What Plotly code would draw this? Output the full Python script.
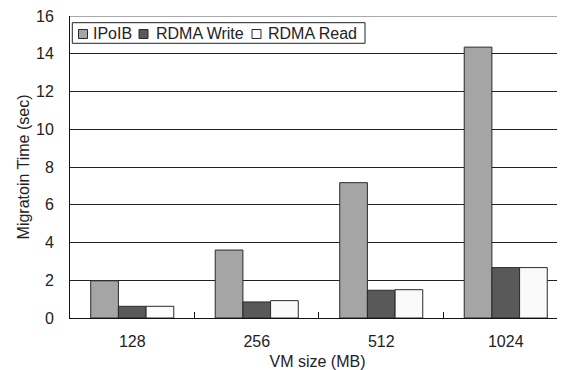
import plotly.graph_objects as go

categories = ["128", "256", "512", "1024"]
ipoib = [1.97, 3.6, 7.17, 14.35]
rdma_write = [0.62, 0.85, 1.47, 2.67]
rdma_read = [0.62, 0.92, 1.5, 2.67]
y_ticks = [0, 2, 4, 6, 8, 10, 12, 14, 16]

series = [
    ("IPoIB", ipoib, "#a5a5a5"),
    ("RDMA Write", rdma_write, "#595959"),
    ("RDMA Read", rdma_read, "#fafafa"),
]

FONT = "Liberation Sans, Arial, Helvetica, sans-serif"
EDGE = "#2a2a2a"

# figure geometry (page body adds an 8px margin)
W, H = 557, 362
ML, MR, MT, MB = 62, 0, 8, 52
PW, PH = W - ML - MR, H - MT - MB


def px_x(x):  # figure pixel -> paper x
    return (x - ML) / PW


def px_y(y):  # figure pixel -> paper y
    return (H - MB - y) / PH


fig = go.Figure()
for name, vals, color in series:
    fig.add_trace(go.Bar(
        x=categories, y=vals, name=name,
        marker=dict(color=color, line=dict(color=EDGE, width=1)),
        showlegend=False,
    ))

fig.update_layout(
    width=W, height=H,
    margin=dict(l=ML, r=MR, t=MT, b=MB, autoexpand=False),
    paper_bgcolor="white", plot_bgcolor="white",
    font=dict(family=FONT, size=16, color="#222"),
    barmode="group", bargap=0.333, bargroupgap=0,
)

fig.update_xaxes(
    type="category", range=[-0.5, 3.476],
    showline=True, linecolor="#111", linewidth=1,
    ticks="inside", tickson="boundaries", ticklen=6, tickcolor="#111",
    showgrid=False, ticklabelstandoff=9,
    title=dict(text="VM size (MB)", standoff=8, font=dict(size=16)),
    tickfont=dict(size=16), ticklabeloverflow="allow",
)
fig.update_yaxes(
    range=[0, 16], tickvals=y_ticks,
    showline=True, linecolor="#111", linewidth=1,
    showgrid=True, gridcolor="#222", gridwidth=1,
    zeroline=False, ticks="", ticklabelstandoff=12,
    title=dict(text="Migratoin Time (sec)", standoff=2, font=dict(size=16)),
    tickfont=dict(size=16), ticklabeloverflow="allow",
)

# lighter top border at the maximum of the value axis
fig.add_shape(type="line", xref="paper", yref="y", x0=0, x1=1, y0=16, y1=16,
              line=dict(color="#aaaaaa", width=2), layer="above")

# legend box (drawn manually to match the compact original layout)
fig.add_shape(type="rect", xref="paper", yref="paper",
              x0=px_x(64.3), x1=px_x(357), y0=px_y(35.3), y1=px_y(14.7),
              line=dict(color="#222", width=1), fillcolor="white", layer="above")
legend_pos = [(70.5, 82.7), (131, 146.3), (244, 257.7)]
for (name, _, color), (sx, tx) in zip(series, legend_pos):
    fig.add_shape(type="rect", xref="paper", yref="paper",
                  x0=px_x(sx), x1=px_x(sx + 9), y0=px_y(30.5), y1=px_y(21.5),
                  line=dict(color=EDGE, width=1), fillcolor=color, layer="above")
    fig.add_annotation(text=name, xref="paper", yref="paper",
                       x=px_x(tx), y=px_y(26), xanchor="left", yanchor="middle",
                       showarrow=False, font=dict(size=16, family=FONT, color="#222"))

fig.write_html("out.html")
